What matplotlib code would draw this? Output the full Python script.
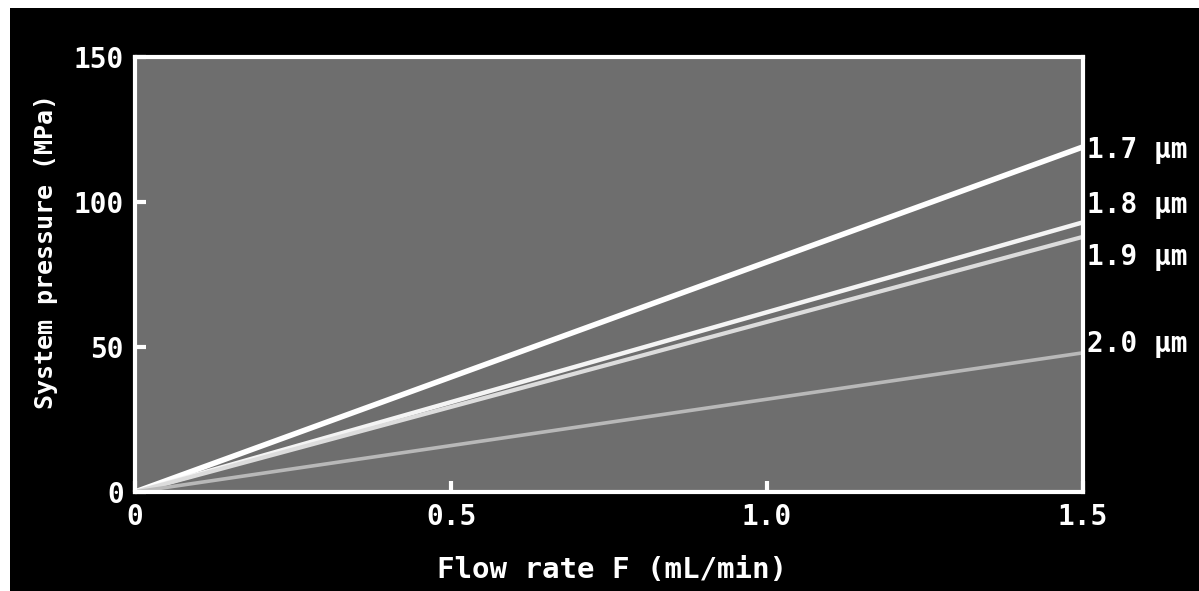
import numpy as np
import matplotlib
matplotlib.use("Agg")
import matplotlib.pyplot as plt

# ── data ────────────────────────────────────────────────────────────────────
flow = [0.0, 1.5]                       # mL/min
sizes = ["1.7 \u03bcm", "1.8 \u03bcm", "1.9 \u03bcm", "2.0 \u03bcm"]
pressure_end = [119, 93, 88, 48]        # MPa at F = 1.5
label_y = [118, 99, 81, 51]             # where each size label sits (MPa)
line_colors = ["#ffffff", "#f4f4f4", "#dcdcdc", "#b8b8b8"]
line_widths = [4.0, 3.2, 3.0, 2.6]

xticks = [0, 0.5, 1.0, 1.5]
xtick_labels = ["0", "0.5", "1.0", "1.5"]
yticks = [0, 50, 100, 150]

FONT = "DejaVu Sans Mono"

fig = plt.figure(figsize=(11.99, 5.91), dpi=100, facecolor="white")
# black photo backdrop
bg = fig.add_axes([10 / 1199, 0, 1 - 10 / 1199, 1 - 8 / 591])
bg.set_facecolor("black"); bg.set_xticks([]); bg.set_yticks([])
for s in bg.spines.values():
    s.set_visible(False)

ax = fig.add_axes([135 / 1199, 1 - 492 / 591, 948 / 1199, 435 / 591])
ax.set_facecolor("#6e6e6e")
for p, c, lw in zip(pressure_end, line_colors, line_widths):
    ax.plot(flow, [0, p], color=c, lw=lw, solid_capstyle="butt")

ax.set_xlim(0, 1.5); ax.set_ylim(0, 150)
for s in ax.spines.values():
    s.set_color("white"); s.set_linewidth(3)
ax.set_xticks(xticks)
ax.set_xticklabels(xtick_labels)
ax.set_yticks(yticks)
ax.tick_params(direction="in", length=8, width=3, color="white",
               labelcolor="white", labelsize=20, pad=8)
for t in ax.get_xticklabels() + ax.get_yticklabels():
    t.set_family(FONT); t.set_weight("bold")

for name, y in zip(sizes, label_y):
    ax.text(1.506, y, name, color="white", fontsize=20, family=FONT,
            weight="bold", va="center", ha="left", clip_on=False)

ax.set_xlabel("Flow rate F (mL/min)", color="white", fontsize=21,
              family=FONT, weight="bold", va="center")
ax.xaxis.set_label_coords(0.503, -0.179)
ax.set_ylabel("System pressure (MPa)", color="white", fontsize=18,
              family=FONT, weight="bold")
ax.yaxis.set_label_coords(-0.081, 0.552)

fig.savefig("out.png", dpi=100, facecolor=fig.get_facecolor())
